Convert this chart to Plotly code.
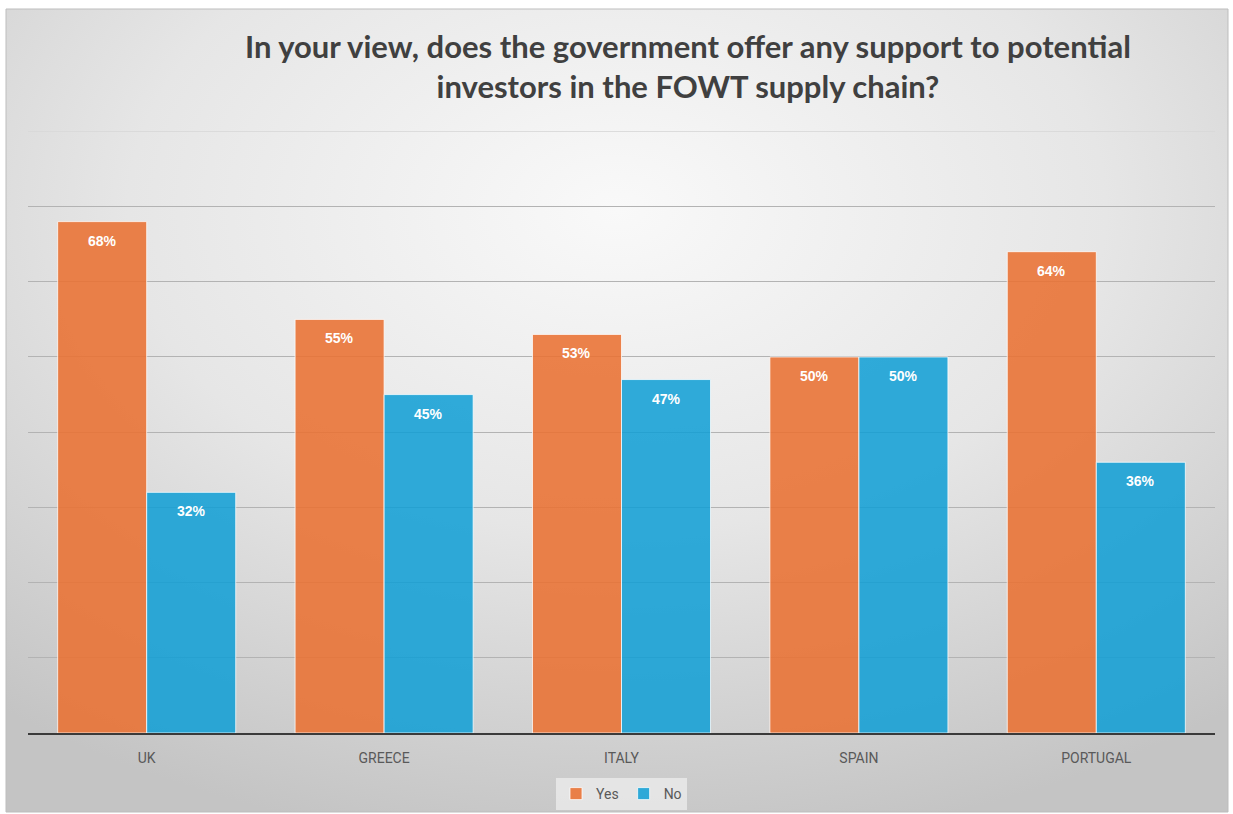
import base64
import plotly.graph_objects as go

# Survey answers per country (percent of respondents)
countries = ["UK", "GREECE", "ITALY", "SPAIN", "PORTUGAL"]
yes_pct = [68, 55, 53, 50, 64]
no_pct = [32, 45, 47, 50, 36]
series_names = ["Yes", "No"]
title_text = ("In your view, does the government offer any support to potential<br>"
              "investors in the FOWT supply chain?")

W, H = 1233, 814
L, R, T, B = 28, 18, 131, 81
plot_w, plot_h = W - L - R, H - T - B

ORANGE = "rgba(233,113,50,0.88)"
BLUE = "rgba(15,158,213,0.86)"

# soft radial grey backdrop for the chart frame
svg = (
    '<svg xmlns="http://www.w3.org/2000/svg" width="1222" height="803" preserveAspectRatio="none">'
    '<defs><radialGradient id="g" cx="0.5" cy="0.25" r="0.8" fx="0.5" fy="0.25">'
    '<stop offset="0" stop-color="#f9f9f9"/>'
    '<stop offset="0.5" stop-color="#e6e6e6"/>'
    '<stop offset="1" stop-color="#c4c4c4"/>'
    '</radialGradient></defs>'
    '<rect width="1222" height="803" fill="url(#g)"/></svg>'
)
bg_uri = "data:image/svg+xml;base64," + base64.b64encode(svg.encode()).decode()


def px_x(px):
    return (px - L) / plot_w


def px_y(py):
    return (H - B - py) / plot_h


fig = go.Figure()
for name, vals, col in [(series_names[0], yes_pct, ORANGE), (series_names[1], no_pct, BLUE)]:
    fig.add_trace(go.Bar(
        name=name, x=countries, y=vals,
        marker=dict(color=col, line=dict(color="rgba(255,255,255,0.75)", width=1)),
        hoverinfo="skip",
    ))

# value labels placed just inside the top of each bar
bar_half = plot_w / 5 * 0.75 / 4
for vals, shift in [(yes_pct, -bar_half), (no_pct, bar_half)]:
    for c, v in zip(countries, vals):
        fig.add_annotation(
            x=c, y=v, text=f"{v}%", showarrow=False, xshift=shift, yshift=-19,
            font=dict(family="Liberation Sans, Arial, sans-serif", size=14,
                      color="white", weight="bold"),
        )

# chart title
fig.add_annotation(
    text=title_text, xref="paper", yref="paper",
    x=px_x(688), y=px_y(25), xanchor="center", yanchor="top", showarrow=False,
    align="center",
    font=dict(family="Lato, sans-serif", size=31, color="#404040", weight="bold"),
)

fig.add_layout_image(dict(
    source=bg_uri, xref="paper", yref="paper",
    x=px_x(6), y=px_y(9), sizex=px_x(1228) - px_x(6), sizey=px_y(9) - px_y(812),
    sizing="stretch", layer="below", xanchor="left", yanchor="top",
))
fig.add_shape(type="rect", xref="paper", yref="paper",
              x0=px_x(6), x1=px_x(1228), y0=px_y(812), y1=px_y(9),
              line=dict(color="#bdbdbd", width=1), layer="below")
# top gridline at the upper end of the value range
fig.add_shape(type="line", xref="paper", yref="y", x0=0, x1=1, y0=80, y1=80,
              line=dict(color="#d9d9d9", width=1), layer="below")

fig.update_layout(
    width=W, height=H,
    margin=dict(l=L, r=R, t=T, b=B, autoexpand=False),
    paper_bgcolor="white",
    plot_bgcolor="rgba(0,0,0,0)",
    barmode="group", bargap=0.25, bargroupgap=0.0,
    xaxis=dict(
        showgrid=False, showline=True, linecolor="#3a3a3a", linewidth=2,
        ticks="", tickfont=dict(family="Roboto, Arial, sans-serif", size=14, color="#595959"),
        ticklabelstandoff=11,
    ),
    yaxis=dict(
        range=[0, 80.05], dtick=10, showticklabels=False, showgrid=True,
        gridcolor="#b3b3b3", gridwidth=1, zeroline=False, showline=False,
    ),
    legend=dict(
        orientation="h", x=0.5, xanchor="center", y=px_y(794), yanchor="middle",
        bgcolor="rgba(235,235,235,0.8)",
        font=dict(family="Roboto, Arial, sans-serif", size=14, color="#595959"),
        itemwidth=30, traceorder="normal",
    ),
    showlegend=True,
)

fig.write_html("out.html")
